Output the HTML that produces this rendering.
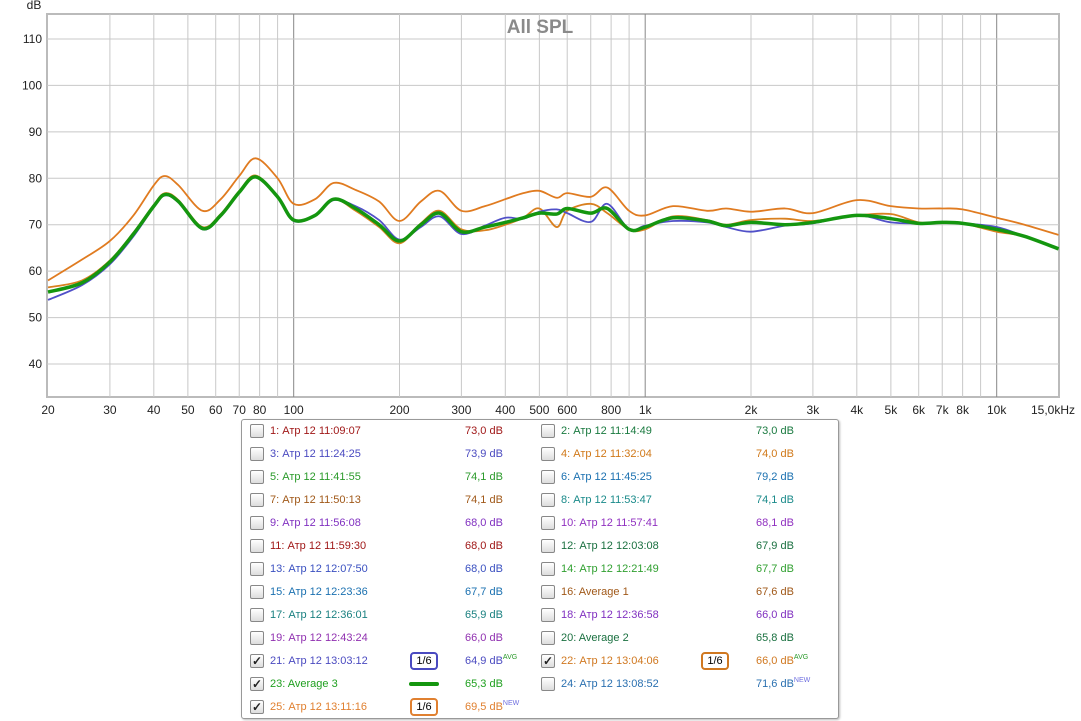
<!DOCTYPE html>
<html><head><meta charset="utf-8"><style>
body{margin:0;width:1081px;height:721px;background:#fff;font-family:"Liberation Sans",sans-serif;position:relative;overflow:hidden}
svg{position:absolute;left:0;top:0}
.lg{position:absolute;left:241px;top:419px;width:596px;height:298px;border:1px solid #999;border-radius:3px;background:#fff;box-shadow:1px 1px 2px #bbb}
.row{position:absolute;font-size:11px;height:16px;line-height:16px;white-space:nowrap}
.cb{position:absolute;width:12px;height:12px;border:1px solid #888;border-radius:2px;background:linear-gradient(#fff,#ddd);font-size:12px;line-height:12px;text-align:center;color:#222;font-weight:bold}
sup,sub{line-height:0}
.vs{font-size:7px;position:relative;top:-5px}
.ic{position:absolute;width:24px;height:14px;border:2px solid;border-radius:4px;font-size:10px;line-height:14px;text-align:center;color:#000;background:#fff}
</style></head><body>
<svg id="chart" width="1081" height="420"></svg>
<div class="lg" id="legend"></div>
<script>
const freqs=[20,25,30,35,40,43,47,55,62,70,78,90,100,115,130,150,175,200,230,260,300,350,400,450,500,560,600,700,780,900,1000,1200,1500,1700,2000,2500,3000,4000,5000,6000,7000,8000,10000,12000,15000];
const green=[55.5,57.5,62,68,74,76.5,75,69.2,72,77,80.3,76,71,72,75.5,73.5,70,66.5,70,72.5,68.5,69.5,70.5,71.5,72.5,72.3,73.5,72.5,73.5,69,69.5,71.5,70.8,69.8,70.5,70,70.5,72,71.3,70.3,70.5,70.3,69,67.5,64.8];
const blue=[53.8,57,61.5,67.5,73.8,76.3,74.8,69,71.8,76.8,80.2,75.8,70.8,72,75.3,74,71,66.8,69.5,71.8,68,69.8,71.5,71.3,72.8,73.3,72.5,70.6,74.5,69,69.8,70.8,70.5,69.5,68.5,69.8,70.3,72,70.5,70.3,70.5,70.3,69.5,67.5,64.8];
const orange22=[56.5,58,62.3,68.3,74.3,76.8,75.3,69.5,72.3,77.3,80.6,76,71,72,75.5,73,69.5,66,70.3,73,69,68.8,70,71.5,73.5,69.5,73,74.5,72.5,69,69,71.8,71,70,71,71.3,70.8,72,72.3,70.5,70.5,70.3,68.5,67.5,64.8];
const orange25=[58,62.5,66.5,72,78.5,80.5,78.5,73,75.5,80.5,84.3,80,74.5,75.5,79,77.5,75,70.8,75,77.3,73,74,75.5,76.8,77.3,75.8,76.8,76,78,73,72,74,73,73.5,72.8,73.5,72.5,75.3,74,73.5,73.5,73.3,71.5,70,67.8];
const yTicks=[40,50,60,70,80,90,100,110];
const xTickVals=[20,30,40,50,60,70,80,100,200,300,400,500,600,800,1000,2000,3000,4000,5000,6000,7000,8000,10000,15000];
const xTickLabels=["20","30","40","50","60","70","80","100","200","300","400","500","600","800","1k","2k","3k","4k","5k","6k","7k","8k","10k","15,0kHz"];
const L=47,R=1059,T=14,B=397;
const X=f=>48+Math.log10(f/20)*351.5;
const Y=d=>39+(110-d)*4.643;
const svg=document.getElementById('chart');const NS='http://www.w3.org/2000/svg';
function mk(t,a,p){const e=document.createElementNS(NS,t);for(const k in a)e.setAttribute(k,a[k]);(p||svg).appendChild(e);return e;}
mk('rect',{x:L,y:T,width:R-L,height:B-T,fill:'#fff',stroke:'#bbb','stroke-width':2});
const grid=[];for(let d=20;d<100;d+=10)grid.push(d);for(let d=100;d<1000;d+=100)grid.push(d);for(let d=1000;d<10000;d+=1000)grid.push(d);grid.push(10000);
grid.forEach(f=>{const x=X(f);if(x<=L+1)return;const major=(f===100||f===1000||f===10000);
const g=mk('line',{x1:x,x2:x,y1:T,y2:B,stroke:major?'#888':'#c8c8c8','stroke-width':1});
});
yTicks.forEach(d=>{const l=mk('line',{x1:L,x2:R,y1:Y(d),y2:Y(d),stroke:'#c8c8c8'});

const t=mk('text',{x:42,y:Y(d)+4,'text-anchor':'end','font-size':12,fill:'#222'});t.textContent=d;
});
xTickVals.forEach((f,i)=>{const t=mk('text',{x:i===xTickVals.length-1?1053:X(f),y:414,'text-anchor':'middle','font-size':12,fill:'#222'});t.textContent=xTickLabels[i];
});
const yt=mk('text',{x:34,y:9,'text-anchor':'middle','font-size':12,fill:'#222'});yt.textContent='dB';

const tt=mk('text',{x:540,y:33,'text-anchor':'middle','font-size':19,'font-weight':'bold',fill:'#8a8a8a'});tt.textContent='All SPL';

function path(vals){const p=freqs.map((f,i)=>[X(f),Y(vals[i])]);let d='M'+p[0][0]+','+p[0][1];
for(let i=0;i<p.length-1;i++){const a=p[Math.max(0,i-1)],b=p[i],c=p[i+1],e=p[Math.min(p.length-1,i+2)];
d+=' C'+(b[0]+(c[0]-a[0])/6)+','+(b[1]+(c[1]-a[1])/6)+' '+(c[0]-(e[0]-b[0])/6)+','+(c[1]-(e[1]-b[1])/6)+' '+c[0]+','+c[1];}return d;}
const s1=mk('path',{d:path(orange25),fill:'none',stroke:'#e07b20','stroke-width':1.8});

const s2=mk('path',{d:path(orange22),fill:'none',stroke:'#d9801f','stroke-width':1.8});

const s3=mk('path',{d:path(blue),fill:'none',stroke:'#5050c8','stroke-width':1.8});

const s4=mk('path',{d:path(green),fill:'none',stroke:'#14960f','stroke-width':3.5});


const items=[
["1: Атр 12 11:09:07","73,0 dB","#a01818",0,"",""],["2: Атр 12 11:14:49","73,0 dB","#1a7a40",0,"",""],
["3: Атр 12 11:24:25","73,9 dB","#4a4ac0",0,"",""],["4: Атр 12 11:32:04","74,0 dB","#d07818",0,"",""],
["5: Атр 12 11:41:55","74,1 dB","#2a9a2a",0,"",""],["6: Атр 12 11:45:25","79,2 dB","#1a70b0",0,"",""],
["7: Атр 12 11:50:13","74,1 dB","#a05818",0,"",""],["8: Атр 12 11:53:47","74,1 dB","#1a8a8a",0,"",""],
["9: Атр 12 11:56:08","68,0 dB","#8030c0",0,"",""],["10: Атр 12 11:57:41","68,1 dB","#9030c0",0,"",""],
["11: Атр 12 11:59:30","68,0 dB","#a01818",0,"",""],["12: Атр 12 12:03:08","67,9 dB","#1a7040",0,"",""],
["13: Атр 12 12:07:50","68,0 dB","#3a50c0",0,"",""],["14: Атр 12 12:21:49","67,7 dB","#30a030",0,"",""],
["15: Атр 12 12:23:36","67,7 dB","#1a70b0",0,"",""],["16: Average 1","67,6 dB","#a05818",0,"",""],
["17: Атр 12 12:36:01","65,9 dB","#1a8080",0,"",""],["18: Атр 12 12:36:58","66,0 dB","#8030c0",0,"",""],
["19: Атр 12 12:43:24","66,0 dB","#9030b0",0,"",""],["20: Average 2","65,8 dB","#1a7040",0,"",""],
["21: Атр 12 13:03:12","64,9 dB","#4a4ac0",1,"AVG","box"],["22: Атр 12 13:04:06","66,0 dB","#d07820",1,"AVG","box"],
["23: Average 3","65,3 dB","#20a020",1,"","line"],["24: Атр 12 13:08:52","71,6 dB","#2a70b0",0,"NEW",""],
["25: Атр 12 13:11:16","69,5 dB","#e08030",1,"NEW","box"]];
const lg=document.getElementById('legend');
items.forEach((it,i)=>{const col=i%2,row=Math.floor(i/2);const bx=col?299:8,top=4+row*23;
const cb=document.createElement('div');cb.className='cb';cb.style.left=bx+'px';cb.style.top=top+'px';cb.textContent=it[3]?'✓':'';
lg.appendChild(cb);
const lb=document.createElement('div');lb.className='row';lb.style.left=(bx+20)+'px';lb.style.top=(top-1)+'px';lb.style.color=it[2];lb.textContent=it[0];
lg.appendChild(lb);
const v=document.createElement('div');v.className='row';v.style.left=(bx+215)+'px';v.style.top=(top-1)+'px';v.style.color=it[2];
v.innerHTML=it[1]+(it[4]?'<span class="vs" style="color:'+(it[4]==='AVG'?'#2a9a2a':'#7070e0')+'">'+it[4]+'</span>':'');
lg.appendChild(v);
if(it[5]==='box'){const ic=document.createElement('div');ic.className='ic';ic.style.left=(bx+160)+'px';ic.style.top=(top-2)+'px';ic.style.borderColor=it[2];ic.innerHTML='<span style="font-size:11px">1/6</span>';
lg.appendChild(ic);}
if(it[5]==='line'){const ic=document.createElement('div');ic.style.cssText='position:absolute;width:30px;height:4px;border-radius:2px;background:#14960f;left:'+(bx+159)+'px;top:'+(top+5)+'px';
lg.appendChild(ic);}
});
</script>
</body></html>
